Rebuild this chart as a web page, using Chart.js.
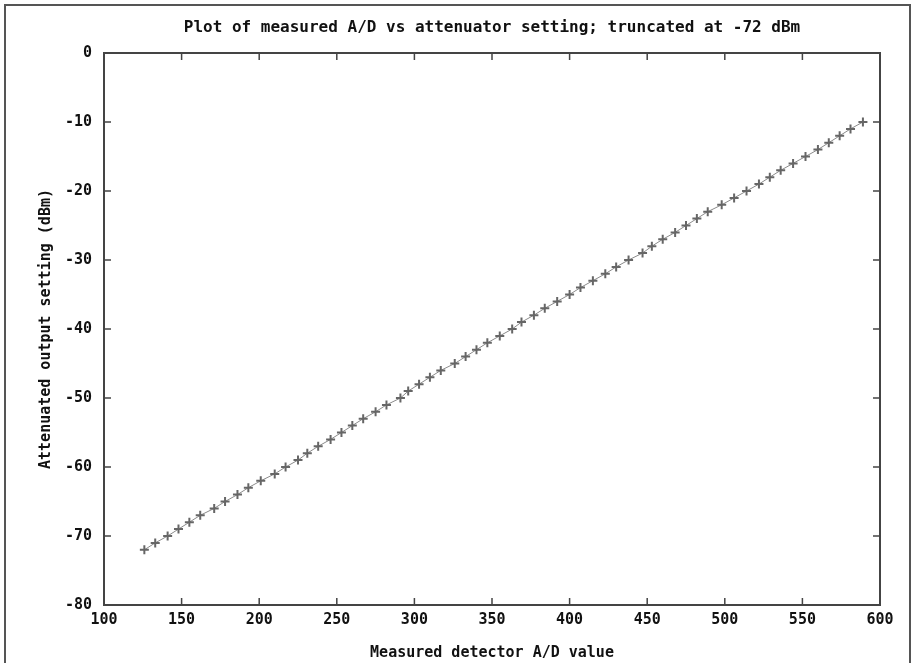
<!DOCTYPE html>
<html>
<head>
<meta charset="utf-8">
<script src="https://cdn.jsdelivr.net/npm/chart.js@4/dist/chart.umd.min.js"></script>
<style>
  body { margin: 0; background: #fff; }
  #wrap { position: relative; width: 914px; height: 663px; overflow: hidden; }
  #frame { position: absolute; left: 4px; top: 4px; width: 903px; height: 700px;
           border: 2px solid #555; border-bottom: none; }
  canvas { position: absolute; left: 0; top: 0; }
</style>
</head>
<body>
<div id="wrap">
  <div id="frame"></div>
  <canvas id="chart" width="914" height="663"></canvas>
</div>
<script>
// attenuator setting (dBm), one step per measurement
const settings = [
  -72, -71, -70, -69, -68, -67, -66, -65, -64, -63, -62, -61, -60, -59, -58, -57,
  -56, -55, -54, -53, -52, -51, -50, -49, -48, -47, -46, -45, -44, -43, -42, -41,
  -40, -39, -38, -37, -36, -35, -34, -33, -32, -31, -30, -29, -28, -27, -26, -25,
  -24, -23, -22, -21, -20, -19, -18, -17, -16, -15, -14, -13, -12, -11, -10
];
// measured detector A/D reading for each setting
const adValues = [
  126, 133, 141, 148, 155, 162, 171, 178, 186, 193, 201, 210, 217, 225, 231, 238,
  246, 253, 260, 267, 275, 282, 291, 296, 303, 310, 317, 326, 333, 340, 347, 355,
  363, 369, 377, 384, 392, 400, 407, 415, 423, 430, 438, 447, 453, 460, 468, 475,
  482, 489, 498, 506, 514, 522, 529, 536, 544, 552, 560, 567, 574, 581, 589
];
const xTicks = [100, 150, 200, 250, 300, 350, 400, 450, 500, 550, 600];
const yTicks = [-80, -70, -60, -50, -40, -30, -20, -10, 0];

const titleText = 'Plot of measured A/D vs attenuator setting; truncated at -72 dBm';
const font = 'DejaVu Sans Mono';

const points = adValues.map((x, i) => ({ x: x, y: settings[i] }));

// box around plot area, inward ticks on all four sides, and the top title
const framePlugin = {
  id: 'frame',
  afterDraw(chart) {
    const { ctx, chartArea: a, scales } = chart;
    ctx.save();
    ctx.strokeStyle = '#444';
    ctx.lineWidth = 2;
    ctx.strokeRect(a.left, a.top, a.right - a.left, a.bottom - a.top);
    ctx.lineWidth = 1.5;
    ctx.beginPath();
    for (const v of xTicks) {
      const px = scales.x.getPixelForValue(v);
      ctx.moveTo(px, a.bottom); ctx.lineTo(px, a.bottom - 7);
      ctx.moveTo(px, a.top); ctx.lineTo(px, a.top + 7);
    }
    for (const v of yTicks) {
      const py = scales.y.getPixelForValue(v);
      ctx.moveTo(a.left, py); ctx.lineTo(a.left + 7, py);
      ctx.moveTo(a.right, py); ctx.lineTo(a.right - 7, py);
    }
    ctx.stroke();
    ctx.fillStyle = '#111';
    ctx.font = 'bold 16px "' + font + '"';
    ctx.textAlign = 'center';
    ctx.textBaseline = 'middle';
    ctx.fillText(titleText, (a.left + a.right) / 2, 28);
    ctx.restore();
  }
};

new Chart(document.getElementById('chart'), {
  type: 'line',
  data: {
    datasets: [{
      data: points,
      borderColor: '#8a8a8a',
      borderWidth: 1,
      pointStyle: 'cross',
      pointRadius: 4.5,
      pointBorderWidth: 2,
      pointBorderColor: '#666',
      pointBackgroundColor: '#666',
      fill: false,
      tension: 0
    }]
  },
  options: {
    responsive: false,
    animation: false,
    devicePixelRatio: 1,
    layout: { padding: { left: 0, right: 34, top: 53, bottom: 0 } },
    plugins: { legend: { display: false }, tooltip: { enabled: false }, title: { display: false } },
    scales: {
      x: {
        type: 'linear',
        min: 100, max: 600,
        afterFit(s) { s.height = 58; },
        afterBuildTicks(s) { s.ticks = xTicks.map(v => ({ value: v })); },
        grid: { display: false, drawTicks: false },
        border: { display: false },
        ticks: { padding: 6, color: '#111', maxRotation: 0, font: { family: font, size: 15, weight: 'bold' } },
        title: {
          display: true, text: 'Measured detector A/D value', color: '#111',
          padding: { top: 0, bottom: 1 },
          font: { family: font, size: 15, weight: 'bold' }
        }
      },
      y: {
        type: 'linear',
        min: -80, max: 0,
        afterFit(s) { s.width = 104; },
        afterBuildTicks(s) { s.ticks = yTicks.map(v => ({ value: v })); },
        grid: { display: false, drawTicks: false },
        border: { display: false },
        ticks: { padding: 12, color: '#111', font: { family: font, size: 15, weight: 'bold' } },
        title: {
          display: true, text: 'Attenuated output setting (dBm)', color: '#111',
          padding: { top: 37, bottom: 0 },
          font: { family: font, size: 15, weight: 'bold' }
        }
      }
    }
  },
  plugins: [framePlugin]
});
</script>
</body>
</html>
